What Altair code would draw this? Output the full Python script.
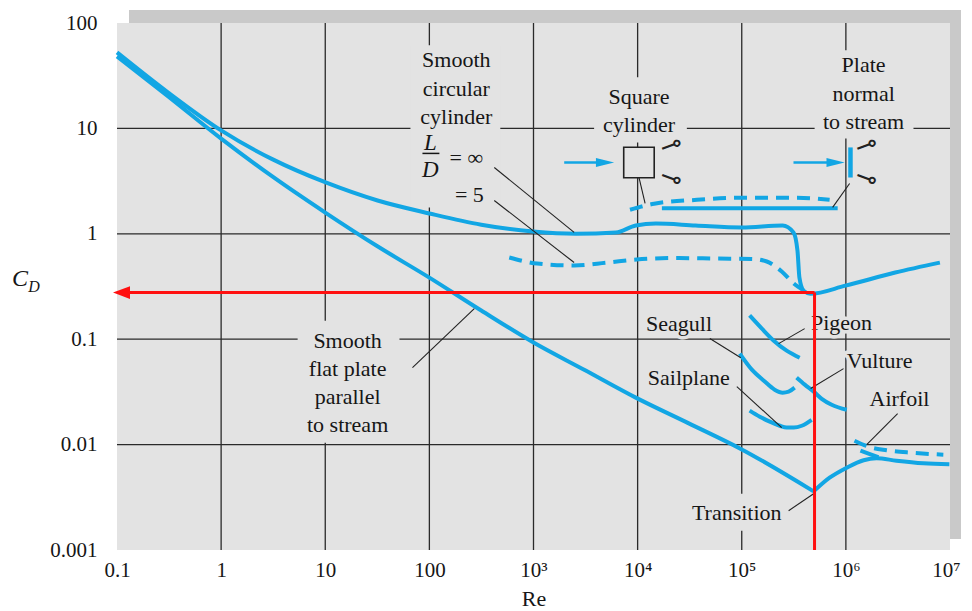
import altair as alt
import pandas as pd

# ---------------- styling constants ----------------
BLUE = "#12a6e4"
GRID = "#2a2a2a"
BG = "#e3e3e3"
SHADOW = "#c9c9c9"
RED = "#ff1010"
INK = "#161616"
SERIF = "Liberation Serif"
W, H = 833, 527

# ---------------- axis ticks ----------------
X_TICKS = [0.1, 1, 10, 100, 1e3, 1e4, 1e5, 1e6, 1e7]
X_TICK_LABELS = ["0.1", "1", "10", "100", "10³", "10⁴", "10⁵", "10⁶", "10⁷"]
Y_TICKS = [0.001, 0.01, 0.1, 1, 10, 100]
Y_TICK_LABELS = ["0.001", "0.01", "0.1", "1", "10", "100"]
GRID_RE = [1, 10, 100, 1e3, 1e4, 1e5, 1e6]
GRID_CD = [0.01, 0.1, 1, 10]

# ---------------- curves ----------------
PLATE_LAM_RE = [0.1, 0.31, 1, 3.1, 10, 32, 100, 315, 1000, 3100, 9600, 3.1e4, 9.8e4, 4.9e5]
PLATE_LAM_CD = [48.3, 20.1, 8.0, 3.5, 1.59, 0.757, 0.384, 0.187, 0.093, 0.051, 0.0279, 0.0159, 0.0091, 0.0036]
PLATE_TURB_RE = [4.9e5, 6.98e5, 1.02e6, 1.48e6, 1.97e6, 3.06e6, 5.56e6, 9.86e6]
PLATE_TURB_CD = [0.0036, 0.00485, 0.00604, 0.00711, 0.00743, 0.00703, 0.00665, 0.00652]

CYL_RE = [0.1, 0.31, 1, 3.13, 10.1, 31.8, 100, 315, 990, 2560, 6200, 9600, 1.5e4, 3.6e4,
          1.0e5, 2.47e5, 3.14e5, 3.43e5, 3.58e5, 3.92e5, 4.57e5, 9.9e5, 2.98e6, 8.0e6]
CYL_CD = [52.7, 21.9, 9.57, 5.08, 3.07, 2.07, 1.56, 1.22, 1.05, 1.0, 1.03, 1.2, 1.25, 1.2,
          1.15, 1.2, 1.03, 0.69, 0.384, 0.289, 0.27, 0.322, 0.429, 0.533]

CYL5_RE = [585, 1087, 2455, 5090, 9770, 2.36e4, 5.71e4, 1.25e5, 1.74e5, 2.42e5, 3.16e5, 3.94e5]
CYL5_CD = [0.596, 0.522, 0.50, 0.533, 0.570, 0.589, 0.582, 0.577, 0.546, 0.439, 0.337, 0.289]

SQUARE_RE = [8450, 1.44e4, 3.71e4, 1.05e5, 3.37e5, 6.98e5]
SQUARE_CD = [1.69, 1.93, 2.10, 2.20, 2.20, 2.10]

NORMAL_RE = [1.71e4, 1.12e5, 8.34e5]
NORMAL_CD = [1.75, 1.75, 1.75]

PIGEON_RE = [1.19e5, 1.56e5, 2.03e5, 2.70e5, 3.60e5]
PIGEON_CD = [0.168, 0.126, 0.0968, 0.0778, 0.0667]

SEAGULL_RE = [9.57e4, 1.25e5, 1.63e5, 2.07e5, 2.47e5, 2.82e5, 3.22e5]
SEAGULL_CD = [0.0730, 0.0514, 0.0404, 0.0332, 0.0311, 0.0318, 0.0347]

VULTURE_RE = [3.37e5, 4.03e5, 4.91e5, 5.86e5, 7.31e5, 1.02e6]
VULTURE_CD = [0.0432, 0.0371, 0.0318, 0.0272, 0.0239, 0.0214]

SAILPLANE_RE = [1.19e5, 1.49e5, 1.86e5, 2.32e5, 2.70e5, 3.16e5, 3.77e5, 4.69e5]
SAILPLANE_CD = [0.0210, 0.0184, 0.0165, 0.0151, 0.0145, 0.0145, 0.0151, 0.0172]

AIRFOIL_DASH_RE = [1.21e6, 1.65e6, 2.46e6, 4.26e6, 8.63e6]
AIRFOIL_DASH_CD = [0.01089, 0.00955, 0.00885, 0.00838, 0.00802]
AIRFOIL_SOLID_RE = [1.38e6, 1.65e6, 2.06e6]
AIRFOIL_SOLID_CD = [0.00875, 0.0082, 0.00759]

# red read-off lines
RED_RE = 5.0e5
RED_CD = 0.277
RED_ARROW_RE = 0.1105

# ---------------- annotations ----------------
TEXTS = ["Smooth\ncircular\ncylinder", "Square\ncylinder", "Plate\nnormal\nto stream",
         "Smooth\nflat plate\nparallel\nto stream", "Seagull", "Pigeon", "Sailplane",
         "Vulture", "Airfoil", "Transition", "= ∞", "= 5"]
TEXT_RE = [181.6, 1.03e4, 1.48e6, 16.4, 2.5e4, 9.08e5, 3.1e4, 2.11e6, 3.27e6, 8.95e4, 226.6, 242]
TEXT_CD = [44.2, 19.8, 39.6, 0.097, 0.1406, 0.1438, 0.0432, 0.0626, 0.0273, 0.002255, 5.19, 2.31]

ITALIC_TEXTS = ["L", "D"]
ITALIC_RE = [102.3, 102.3]
ITALIC_CD = [7.2, 3.99]

FRAC_RE = [85.8, 124.8]
FRAC_CD = 5.79

# leader lines: start / end
LEAD_RE1 = [420, 420, 1.03e4, 1.086e6, 68.8, 2.26e5, 4.94e4, 8.97e4, 4.59e5, 1.585e6, 2.82e5]
LEAD_CD1 = [4.26, 2.07, 3.43, 3.0, 0.0537, 0.0908, 0.1014, 0.0355, 0.034, 0.00998, 0.00236]
LEAD_RE2 = [2455, 2455, 1.18e4, 7.46e5, 270, 4.02e5, 9.79e4, 2.42e5, 9.5e5, 3.14e6, 4.9e5]
LEAD_CD2 = [1.03, 0.534, 1.94, 1.78, 0.195, 0.126, 0.0668, 0.0145, 0.0526, 0.01965, 0.00342]

# background boxes behind text blocks (gridline gaps)
BOX_RE1 = [65.8, 3820, 5.01e5, 5.43, 2.97e4]
BOX_RE2 = [480, 2.97e4, 4.46e6, 51.6, 2.7e5]
BOX_CD1 = [61.4, 30.5, 55.2, 0.150, 0.00342]
BOX_CD2 = [1.78, 7.36, 8.04, 0.01042, 0.00152]

# flow sketches
SQ_BODY_RE, SQ_BODY_CD = 1.03e4, 4.75
ARROW_CD = 4.75
ARROW_SHAFT_RE1 = [1972, 3.14e5]
ARROW_SHAFT_RE2 = [4550, 7.28e5]
ARROW_HEAD_RE = [4865, 7.96e5]
PLATE_BAR_RE, PLATE_BAR_CD1, PLATE_BAR_CD2 = 1.107e6, 3.42, 6.6
CURL_RE = [2.1e4, 2.1e4, 1.58e6, 1.58e6]
CURL_CD = [6.9, 3.35, 6.9, 3.35]
CURL_ANGLE = [340, 20, 340, 20]

# ---------------- build ----------------
xs = alt.Scale(type="log", domain=[0.1, 1e7], nice=False)
ys = alt.Scale(type="log", domain=[0.001, 100], nice=False)
one = pd.DataFrame({"k": [0]})


def lab_expr(labels, shift):
    arr = "[" + ",".join("'" + s + "'" for s in labels) + "]"
    return arr + "[round(log(datum.value)/LN10)+" + str(shift) + "]"


XAX = alt.Axis(values=X_TICKS, labelExpr=lab_expr(X_TICK_LABELS, 1), grid=False, domain=False,
               ticks=False, labelFont=SERIF, labelFontSize=21, labelColor=INK, labelPadding=9,
               labelFlush=False, labelOverlap=False, labelBound=False, orient="bottom",
               labelOffset={"condition": {"test": "datum.value > 5e6", "value": -4}, "value": 0},
               title="Re", titleFont=SERIF, titleFontSize=22, titleFontWeight="normal",
               titleColor=INK, titlePadding=8)
YAX = alt.Axis(values=Y_TICKS, labelExpr=lab_expr(Y_TICK_LABELS, 3), grid=False, domain=False,
               ticks=False, labelFont=SERIF, labelFontSize=21, labelColor=INK, labelPadding=20,
               labelFlush=False, labelOverlap=False, labelBound=False, orient="left", title=None)


def X(field):
    return alt.X(field, scale=xs, axis=XAX)


def Y(field):
    return alt.Y(field, scale=ys, axis=YAX)


shadow = alt.Chart(one).mark_rect(color=SHADOW).encode(
    x=alt.value(12), x2=alt.value(W + 11), y=alt.value(-13), y2=alt.value(H - 11))
panel = alt.Chart(one).mark_rect(color=BG).encode(
    x=alt.value(0), x2=alt.value(W), y=alt.value(0), y2=alt.value(H))

vgrid = alt.Chart(pd.DataFrame({"Re": GRID_RE})).mark_rule(color=GRID, strokeWidth=1.3).encode(
    x=X("Re:Q"))
hgrid = alt.Chart(pd.DataFrame({"CD": GRID_CD})).mark_rule(color=GRID, strokeWidth=1.3).encode(
    y=Y("CD:Q"))

boxes = alt.Chart(pd.DataFrame({"a": BOX_RE1, "b": BOX_RE2, "c": BOX_CD1, "d": BOX_CD2})).mark_rect(
    color=BG).encode(x=X("a:Q"), x2="b:Q", y=Y("c:Q"), y2="d:Q")

series = [
    ("plate_lam", PLATE_LAM_RE, PLATE_LAM_CD, False),
    ("plate_turb", PLATE_TURB_RE, PLATE_TURB_CD, False),
    ("cyl", CYL_RE, CYL_CD, False),
    ("cyl5", CYL5_RE, CYL5_CD, True),
    ("square", SQUARE_RE, SQUARE_CD, True),
    ("normal", NORMAL_RE, NORMAL_CD, False),
    ("pigeon", PIGEON_RE, PIGEON_CD, False),
    ("seagull", SEAGULL_RE, SEAGULL_CD, False),
    ("vulture", VULTURE_RE, VULTURE_CD, False),
    ("sailplane", SAILPLANE_RE, SAILPLANE_CD, False),
    ("airfoil_d", AIRFOIL_DASH_RE, AIRFOIL_DASH_CD, True),
    ("airfoil_s", AIRFOIL_SOLID_RE, AIRFOIL_SOLID_CD, False),
]
frames = []
for name, re_, cd_, dashed in series:
    frames.append(pd.DataFrame({"series": name, "Re": re_, "CD": cd_,
                                "i": list(range(len(re_))), "dashed": dashed}))
curves = pd.concat(frames, ignore_index=True)

solid = alt.Chart(curves[~curves.dashed]).mark_line(
    color=BLUE, strokeWidth=4, interpolate="monotone", strokeCap="butt").encode(
    x=X("Re:Q"), y=Y("CD:Q"), detail="series:N", order="i:Q")
dashed = alt.Chart(curves[curves.dashed]).mark_line(
    color=BLUE, strokeWidth=4, interpolate="monotone", strokeDash=[13, 8], strokeCap="butt").encode(
    x=X("Re:Q"), y=Y("CD:Q"), detail="series:N", order="i:Q")

leaders = alt.Chart(pd.DataFrame({"a": LEAD_RE1, "b": LEAD_RE2, "c": LEAD_CD1, "d": LEAD_CD2})).mark_rule(
    color="#222222", strokeWidth=1.1).encode(x=X("a:Q"), x2="b:Q", y=Y("c:Q"), y2="d:Q")

frac = alt.Chart(pd.DataFrame({"a": [FRAC_RE[0]], "b": [FRAC_RE[1]], "c": [FRAC_CD]})).mark_rule(
    color=INK, strokeWidth=1.5).encode(x=X("a:Q"), x2="b:Q", y=Y("c:Q"))

# flow sketches
arrow_shafts = alt.Chart(pd.DataFrame({"a": ARROW_SHAFT_RE1, "b": ARROW_SHAFT_RE2,
                                       "c": [ARROW_CD] * 2})).mark_rule(
    color=BLUE, strokeWidth=2.5).encode(x=X("a:Q"), x2="b:Q", y=Y("c:Q"))
arrow_heads = alt.Chart(pd.DataFrame({"a": ARROW_HEAD_RE, "c": [ARROW_CD] * 2})).mark_point(
    shape="M -1 -0.5 L 1 0 L -1 0.5 Z", filled=True, color=BLUE, opacity=1, size=330, strokeWidth=0).encode(
    x=X("a:Q"), y=Y("c:Q"))
square_body = alt.Chart(pd.DataFrame({"a": [SQ_BODY_RE], "c": [SQ_BODY_CD]})).mark_point(
    shape="square", filled=False, fill=BG, fillOpacity=1, stroke="#222222", strokeWidth=1.6,
    opacity=1, size=930).encode(x=X("a:Q"), y=Y("c:Q"))
plate_bar = alt.Chart(pd.DataFrame({"a": [PLATE_BAR_RE], "c": [PLATE_BAR_CD1], "d": [PLATE_BAR_CD2]})).mark_rule(
    color=BLUE, strokeWidth=4.5).encode(x=X("a:Q"), y=Y("c:Q"), y2="d:Q")
curls = alt.Chart(pd.DataFrame({"a": CURL_RE, "c": CURL_CD, "ang": CURL_ANGLE, "t": ["⊸"] * 4})).mark_text(
    font="DejaVu Sans", fontSize=26, color="#222222", align="center", baseline="middle").encode(
    x=X("a:Q"), y=Y("c:Q"), text="t:N", angle=alt.Angle("ang:Q", scale=None))

# text labels (halo first to cut the grid, then ink)
tdf = pd.DataFrame({"t": TEXTS, "a": TEXT_RE, "c": TEXT_CD})
halo = alt.Chart(tdf).mark_text(
    font=SERIF, fontSize=22, lineBreak="\n", lineHeight=28.3, align="center", baseline="middle",
    fill=BG, stroke=BG, strokeWidth=7, strokeJoin="round").encode(
    x=X("a:Q"), y=Y("c:Q"), text="t:N")
labels = alt.Chart(tdf).mark_text(
    font=SERIF, fontSize=22, lineBreak="\n", lineHeight=28.3, align="center", baseline="middle",
    color=INK).encode(x=X("a:Q"), y=Y("c:Q"), text="t:N")
italics = alt.Chart(pd.DataFrame({"t": ITALIC_TEXTS, "a": ITALIC_RE, "c": ITALIC_CD})).mark_text(
    font=SERIF, fontSize=23, fontStyle="italic", align="center", baseline="middle", color=INK).encode(
    x=X("a:Q"), y=Y("c:Q"), text="t:N")

# y-axis title C_D
c_title = alt.Chart(one).mark_text(font=SERIF, fontSize=24, fontStyle="italic", color=INK,
                                   align="center", baseline="middle", text="C").encode(
    x=alt.value(-97), y=alt.value(256))
d_title = alt.Chart(one).mark_text(font=SERIF, fontSize=16, fontStyle="italic", color=INK,
                                   align="center", baseline="middle", text="D").encode(
    x=alt.value(-83), y=alt.value(264))

# red read-off lines
red_lines = alt.Chart(pd.DataFrame({"a": [RED_ARROW_RE + 0.01, RED_RE], "b": [RED_RE, RED_RE],
                                    "c": [RED_CD, RED_CD], "d": [RED_CD, 0.001]})).mark_rule(
    color=RED, strokeWidth=3).encode(x=X("a:Q"), x2="b:Q", y=Y("c:Q"), y2="d:Q")
red_head = alt.Chart(pd.DataFrame({"a": [RED_ARROW_RE], "c": [RED_CD]})).mark_point(
    shape="M 1 -0.75 L -1 0 L 1 0.75 Z", filled=True, color=RED, opacity=1, size=290, strokeWidth=0).encode(
    x=X("a:Q"), y=Y("c:Q"))

chart = alt.layer(
    shadow, panel, vgrid, hgrid, boxes, solid, dashed, leaders, frac,
    arrow_shafts, arrow_heads, square_body, plate_bar, curls,
    halo, labels, italics, c_title, d_title, red_lines, red_head
).properties(
    width=W, height=H,
    padding={"left": 109, "top": 15, "right": 13, "bottom": 60},
    autosize="none",
).configure_view(stroke=None)

chart.save("out.html", embed_options={"renderer": "svg", "actions": False})
